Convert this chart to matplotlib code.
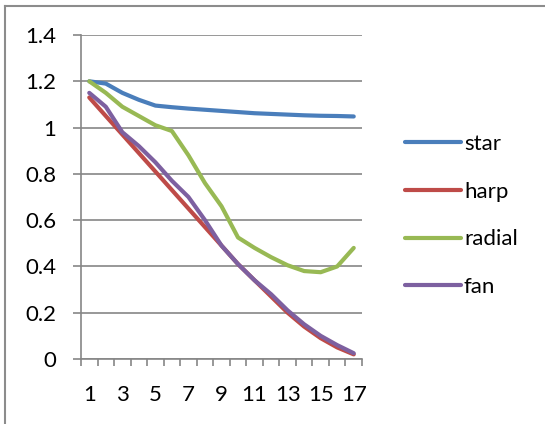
import matplotlib
matplotlib.use("Agg")
import matplotlib.pyplot as plt
from matplotlib.lines import Line2D
import numpy as np

plt.rcParams['font.family'] = ['Lato', 'DejaVu Sans']

# values
x = np.arange(1, 18)
star = [1.20, 1.19, 1.15, 1.12, 1.095, 1.088, 1.082, 1.077, 1.072,
        1.067, 1.062, 1.059, 1.056, 1.053, 1.051, 1.050, 1.048]
harp = [1.13, 1.05, 0.97, 0.89, 0.81, 0.73, 0.65, 0.57, 0.49,
        0.41, 0.34, 0.27, 0.20, 0.14, 0.09, 0.05, 0.02]
radial = [1.20, 1.15, 1.09, 1.05, 1.01, 0.985, 0.88, 0.76, 0.66,
          0.525, 0.48, 0.44, 0.405, 0.38, 0.375, 0.40, 0.48]
fan = [1.15, 1.09, 0.98, 0.92, 0.85, 0.77, 0.70, 0.60, 0.49,
       0.41, 0.34, 0.28, 0.21, 0.15, 0.10, 0.06, 0.025]

names = ["star", "harp", "radial", "fan"]
colors = ["#4A7EBB", "#BE4B48", "#98B954", "#7D60A0"]

W, H = 545, 424
fig = plt.figure(figsize=(W / 100, H / 100), dpi=100)
ax = fig.add_axes([81 / W, 1 - 359 / H, 281 / W, 324 / H])

for y, name, c in zip([star, harp, radial, fan], names, colors):
    ax.plot(x, y, color=c, lw=3, label=name, solid_capstyle='round')

grey = "#868686"
ax.set_xlim(0.5, 17.5)
ax.set_ylim(0, 1.4)
ax.set_yticks(np.arange(0, 1.41, 0.2))
ax.set_yticklabels(["0", "0.2", "0.4", "0.6", "0.8", "1", "1.2", "1.4"])
ax.set_xticks(np.arange(1, 18, 2))
ax.set_xticks(np.arange(0.5, 17.6, 1), minor=True)
ax.grid(axis='y', color=grey, lw=1.2)
ax.set_axisbelow(True)
for s in ["top", "right"]:
    ax.spines[s].set_visible(False)
for s in ["left", "bottom"]:
    ax.spines[s].set_color(grey)
    ax.spines[s].set_linewidth(1.2)
ax.tick_params(axis='y', length=6, width=1.2, color=grey, pad=12, labelsize=16)
ax.tick_params(axis='x', which='major', length=0, pad=19, labelsize=16)
ax.tick_params(axis='x', which='minor', length=5, width=1.2, color=grey)

ax.legend(loc='center left', bbox_to_anchor=(405 / W, 1 - 215.5 / H),
          bbox_transform=fig.transFigure, frameon=False, fontsize=16,
          handlelength=2.5, handletextpad=0.15, labelspacing=1.25,
          borderpad=0, borderaxespad=0)

# outer chart frame, only the top and left edges are inside the picture
fig.add_artist(Line2D([4.5 / W, 4.5 / W], [0, 1 - 6 / H], color="#8C8C8C",
                      lw=1.5, transform=fig.transFigure))
fig.add_artist(Line2D([4.5 / W, 1], [1 - 6 / H, 1 - 6 / H], color="#8C8C8C",
                      lw=1.5, transform=fig.transFigure))

fig.savefig("out.png", dpi=100)
